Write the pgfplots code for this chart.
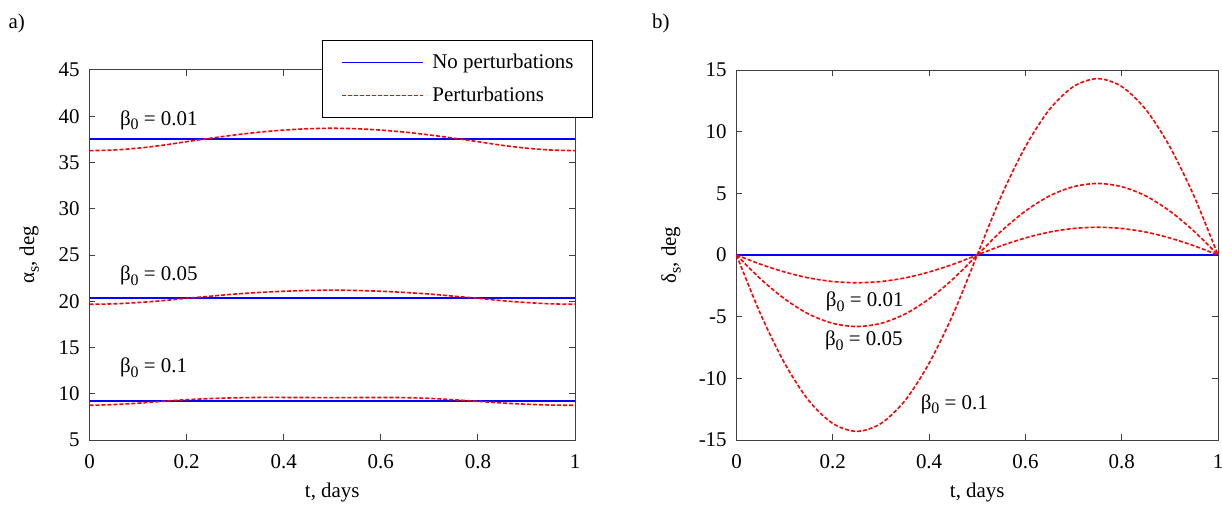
\documentclass[border=0pt]{standalone}
\usepackage{fontspec}
\setmainfont{Liberation Serif}
\usepackage{xcolor}
\usepackage{pgfplots}
\usepackage{pgfplotstable}
\pgfplotsset{compat=1.18}

\definecolor{npblue}{RGB}{0,0,255}
\definecolor{pred}{RGB}{255,0,0}
\definecolor{axgray}{RGB}{64,64,64}

% alpha_s for the three beta_0 (perturbed case)
\pgfplotstableread{
t     a1     a5     a10
0.00  36.28  19.67  8.75
0.05  36.35  19.72  8.83
0.10  36.55  19.86  8.98
0.15  36.86  20.06  9.18
0.20  37.25  20.32  9.36
0.25  37.63  20.55  9.48
0.30  37.98  20.78  9.56
0.35  38.28  20.95  9.60
0.40  38.50  21.08  9.60
0.45  38.65  21.16  9.59
0.50  38.70  21.20  9.58
0.55  38.65  21.16  9.59
0.60  38.50  21.08  9.60
0.65  38.28  20.95  9.58
0.70  37.98  20.78  9.50
0.75  37.63  20.55  9.35
0.80  37.25  20.32  9.18
0.85  36.86  20.06  9.00
0.90  36.55  19.86  8.87
0.95  36.35  19.72  8.78
1.00  36.28  19.67  8.75
}\alphatab

% delta_s for the three beta_0 (perturbed case)
\pgfplotstableread{
t     d1     d5     d10
0.00   0.00   0.00    0.00
0.05  -0.75  -1.94   -4.79
0.10  -1.38  -3.56   -8.78
0.15  -1.86  -4.79  -11.80
0.20  -2.15  -5.54  -13.66
0.25  -2.25  -5.80  -14.30
0.30  -2.15  -5.54  -13.66
0.35  -1.86  -4.79  -11.80
0.40  -1.38  -3.56   -8.78
0.45  -0.75  -1.94   -4.79
0.50   0.00   0.00    0.00
0.55   0.75   1.94    4.79
0.60   1.38   3.56    8.78
0.65   1.86   4.79   11.80
0.70   2.15   5.54   13.66
0.75   2.25   5.80   14.30
0.80   2.15   5.54   13.66
0.85   1.86   4.79   11.80
0.90   1.38   3.56    8.78
0.95   0.75   1.94    4.79
1.00   0.00   0.00    0.00
}\deltatab

\newcommand{\fs}{\fontsize{10.5}{12}\selectfont}
\newcommand{\sub}[1]{\raisebox{-2.4bp}{\fontsize{8}{9}\selectfont #1}}
\newcommand{\bz}[1]{β\sub{0} = #1}

\pgfplotsset{
  panel/.style={
    scale only axis,
    height=185bp,
    xmin=0, xmax=1,
    xtick={0,0.2,0.4,0.6,0.8,1},
    tick align=inside,
    major tick length=2.8bp,
    tick style={draw=axgray, line width=0.5bp},
    axis line style={draw=axgray, line width=0.5bp},
    /pgf/number format/assume math mode=true,
    tick label style={font=\fs},
    xticklabel style={yshift=-3.7bp},
    yticklabel style={xshift=-1.4bp},
    xlabel={t, days},
    xlabel style={font=\fs, at={(axis description cs:0.5,0)}, anchor=base, yshift=-28.5bp},
  },
  nopert/.style={color=npblue, line width=0.9bp,
    legend image code/.code={\draw[npblue, line width=0.9bp] (0bp,0bp) -- (40.3bp,0bp);}},
  pert/.style={color=pred, line width=0.8bp, dash pattern=on 2bp off 1bp, smooth,
    legend image code/.code={\draw[pred, line width=0.8bp, dash pattern=on 2bp off 1bp] (0bp,0bp) -- (40.3bp,0bp);}},
}

\begin{document}
\begin{tikzpicture}
\begin{axis}[panel,
  at={(0bp,0bp)}, anchor=south west,
  width=242.75bp,
  ymin=5, ymax=45, ytick={5,10,...,45},
  ylabel={α\sub{s}, deg},
  ylabel style={font=\fs, at={(axis description cs:-0.114,0.5)}, anchor=base},
  legend cell align=left,
  legend style={at={(1.037,1.081)}, anchor=north east, draw=black,
    fill=white, font=\fs,
    inner xsep=9.5bp, inner ysep=6.7bp, row sep=7.8bp,
    nodes={inner sep=0bp},
    /tikz/every odd column/.append style={column sep=4.35bp}},
]
\addplot[nopert] coordinates {(0,37.51) (1,37.51)};
\addlegendentry{No perturbations}
\addplot[pert] table[x=t, y=a1] {\alphatab};
\addlegendentry{Perturbations}
\addplot[nopert, forget plot] coordinates {(0,20.38) (1,20.38)};
\addplot[pert, forget plot] table[x=t, y=a5] {\alphatab};
\addplot[nopert, forget plot] coordinates {(0,9.18) (1,9.18)};
\addplot[pert, forget plot] table[x=t, y=a10] {\alphatab};
\node[anchor=base west, inner sep=0, font=\fs] at (axis cs:0.062,39.04) {\bz{0.01}};
\node[anchor=base west, inner sep=0, font=\fs] at (axis cs:0.062,22.23) {\bz{0.05}};
\node[anchor=base west, inner sep=0, font=\fs] at (axis cs:0.062,12.30) {\bz{0.1}};
\end{axis}

\begin{axis}[panel,
  at={(323.5bp,0bp)}, anchor=south west,
  width=240.75bp,
  ymin=-15, ymax=15, ytick={-15,-10,...,15},
  ylabel={δ\sub{s}, deg},
  ylabel style={font=\fs, at={(axis description cs:-0.126,0.5)}, anchor=base},
]
\addplot[nopert] coordinates {(0,0) (1,0)};
\addplot[pert] table[x=t, y=d1] {\deltatab};
\addplot[pert] table[x=t, y=d5] {\deltatab};
\addplot[pert] table[x=t, y=d10] {\deltatab};
\node[anchor=base west, inner sep=0, font=\fs] at (axis cs:0.185,-4.16) {\bz{0.01}};
\node[anchor=base west, inner sep=0, font=\fs] at (axis cs:0.183,-7.35) {\bz{0.05}};
\node[anchor=base west, inner sep=0, font=\fs] at (axis cs:0.382,-12.49) {\bz{0.1}};
\end{axis}

\node[anchor=base west, inner sep=0, font=\fs] at (-40.6bp,205.9bp) {a)};
\node[anchor=base west, inner sep=0, font=\fs] at (281.1bp,205.9bp) {b)};

\pgfresetboundingbox
\useasboundingbox (-44.75bp,-32.5bp) rectangle (566.25bp,220bp);
\end{tikzpicture}
\end{document}
